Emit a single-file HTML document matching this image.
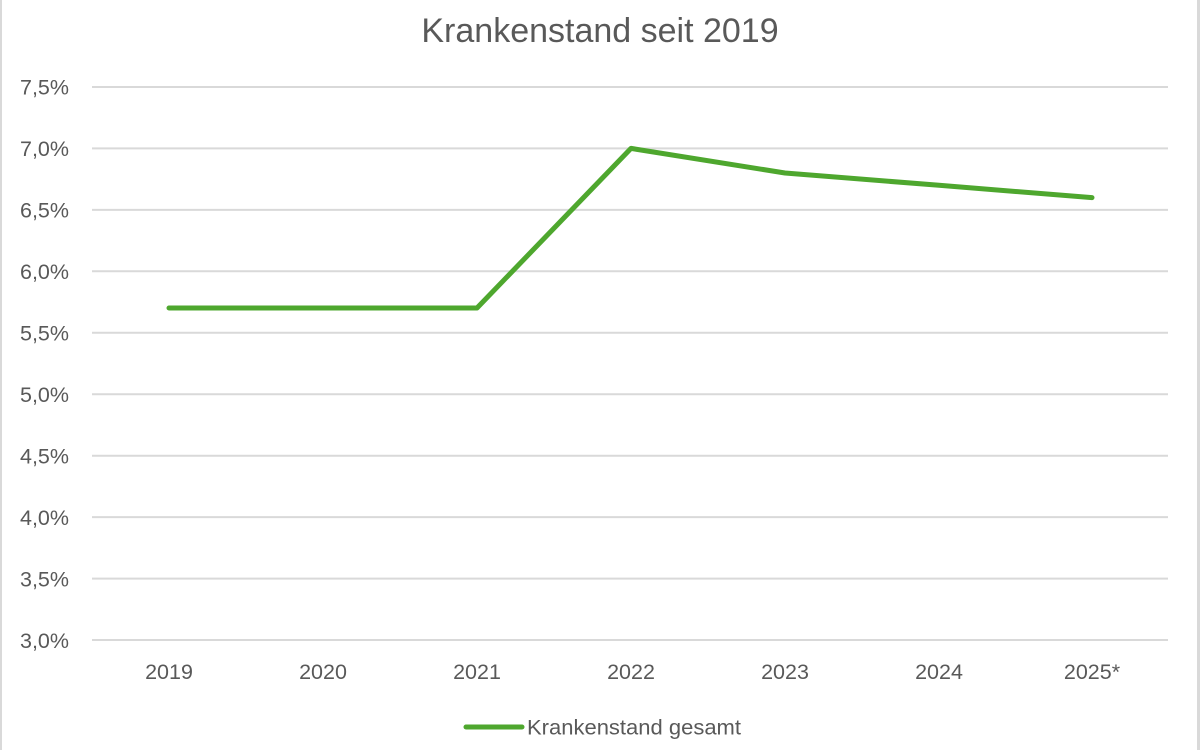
<!DOCTYPE html>
<html><head><meta charset="utf-8"><style>
html,body{margin:0;padding:0;background:#fff;}
svg{display:block;}
text{font-family:"Liberation Sans",sans-serif;fill:#595959;}
</style></head><body>
<svg width="1200" height="750" viewBox="0 0 1200 750" xmlns="http://www.w3.org/2000/svg">
<rect x="0" y="0" width="1200" height="750" fill="#fff"/>
<rect x="0" y="0" width="2" height="750" fill="#d9d9d9"/>
<rect x="1197" y="0" width="3" height="750" fill="#d9d9d9"/>
<text x="600" y="42" font-size="34" text-anchor="middle">Krankenstand seit 2019</text>
<g stroke="#d9d9d9" stroke-width="2">
<line x1="92" x2="1168" y1="87" y2="87"/>
<line x1="92" x2="1168" y1="148.4" y2="148.4"/>
<line x1="92" x2="1168" y1="209.9" y2="209.9"/>
<line x1="92" x2="1168" y1="271.3" y2="271.3"/>
<line x1="92" x2="1168" y1="332.8" y2="332.8"/>
<line x1="92" x2="1168" y1="394.2" y2="394.2"/>
<line x1="92" x2="1168" y1="455.7" y2="455.7"/>
<line x1="92" x2="1168" y1="517.1" y2="517.1"/>
<line x1="92" x2="1168" y1="578.6" y2="578.6"/>
<line x1="92" x2="1168" y1="640" y2="640"/>
</g>
<g font-size="21.5" text-anchor="end">
<text x="69" y="94.5">7,5%</text>
<text x="69" y="156">7,0%</text>
<text x="69" y="217.5">6,5%</text>
<text x="69" y="279">6,0%</text>
<text x="69" y="340.5">5,5%</text>
<text x="69" y="402">5,0%</text>
<text x="69" y="463.5">4,5%</text>
<text x="69" y="525">4,0%</text>
<text x="69" y="586.5">3,5%</text>
<text x="69" y="648">3,0%</text>
</g>
<g font-size="21.5" text-anchor="middle">
<text x="169" y="679">2019</text>
<text x="323" y="679">2020</text>
<text x="477" y="679">2021</text>
<text x="631" y="679">2022</text>
<text x="785" y="679">2023</text>
<text x="939" y="679">2024</text>
<text x="1092" y="679">2025*</text>
</g>
<polyline points="169,308 323,308 477,308 631,148.4 785,173 939,185.3 1092,197.6" fill="none" stroke="#4ea72e" stroke-width="5" stroke-linejoin="round" stroke-linecap="round"/>
<line x1="466" x2="522" y1="727" y2="727" stroke="#4ea72e" stroke-width="5" stroke-linecap="round"/>
<text x="527" y="734.5" font-size="21.5" textLength="214" lengthAdjust="spacingAndGlyphs">Krankenstand gesamt</text>
</svg>
</body></html>
